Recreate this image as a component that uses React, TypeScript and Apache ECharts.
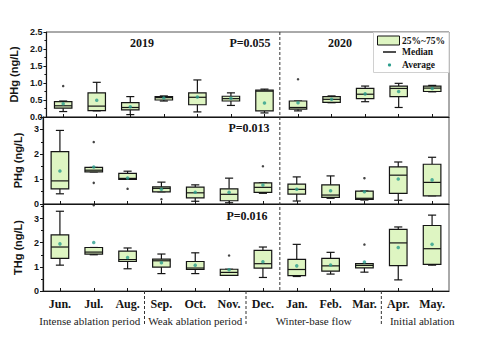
import React, { useEffect, useRef } from "react";
import * as echarts from "echarts";

const months = ["Jun.", "Jul.", "Aug.", "Sep.", "Oct.", "Nov.", "Dec.", "Jan.", "Feb.", "Mar.", "Apr.", "May."];
const periods = ["Intense ablation period", "Weak ablation period", "Winter-base flow", "Initial ablation"];
const yearLabels = ["2019", "2020"];
const pLabels = ["P=0.055", "P=0.013", "P=0.016"];
const legendLabels = ["25%~75%", "Median", "Average"];

// [lower whisker, Q1, median, Q3, upper whisker]
const dhgBoxes = [
  [0.16, 0.26, 0.33, 0.45, 0.47],
  [0.18, 0.19, 0.32, 0.71, 1.02],
  [0.07, 0.21, 0.28, 0.42, 0.6],
  [0.47, 0.5, 0.57, 0.6, 0.62],
  [0.15, 0.36, 0.58, 0.71, 1.09],
  [0.34, 0.47, 0.54, 0.61, 0.71],
  [0.12, 0.18, 0.76, 0.79, 0.82],
  [0.18, 0.23, 0.28, 0.47, 0.47],
  [0.42, 0.43, 0.52, 0.6, 0.62],
  [0.45, 0.54, 0.67, 0.84, 0.91],
  [0.28, 0.6, 0.84, 0.91, 0.99],
  [0.74, 0.75, 0.85, 0.91, 0.93],
];
const dhgMeans = [0.39, 0.49, 0.3, 0.56, 0.59, 0.55, 0.41, 0.42, 0.52, 0.68, 0.75, 0.84];
const dhgOutliers = [[0, 0.91], [7, 1.11]];

const phgBoxes = [
  [0.41, 0.61, 0.93, 2.11, 2.96],
  [1.29, 1.29, 1.36, 1.47, 1.47],
  [0.99, 0.99, 1.03, 1.23, 1.32],
  [0.49, 0.49, 0.63, 0.69, 0.88],
  [0.11, 0.25, 0.45, 0.68, 0.77],
  [0.05, 0.13, 0.39, 0.61, 1.04],
  [0.43, 0.47, 0.67, 0.85, 0.85],
  [0.12, 0.4, 0.59, 0.8, 1.09],
  [0.23, 0.27, 0.36, 0.77, 1.13],
  [0.16, 0.19, 0.23, 0.52, 0.52],
  [0.15, 0.43, 1.16, 1.49, 1.69],
  [0.33, 0.33, 0.87, 1.6, 1.88],
];
const phgMeans = [1.33, 1.49, 1.05, 0.59, 0.47, 0.47, 0.76, 0.59, 0.53, 0.49, 1.01, 0.97];
const phgOutliers = [[1, 2.49], [1, 0.85], [1, -0.05], [2, 0.61], [3, 0.19], [6, 1.52], [9, 1.04]];

const thgBoxes = [
  [1.07, 1.35, 1.82, 2.32, 3.3],
  [1.5, 1.53, 1.61, 1.8, 1.8],
  [0.92, 1.22, 1.3, 1.65, 1.78],
  [0.72, 0.99, 1.25, 1.32, 1.53],
  [0.72, 0.89, 0.95, 1.22, 1.58],
  [0.65, 0.65, 0.77, 0.9, 0.9],
  [0.56, 0.95, 1.13, 1.68, 1.82],
  [0.6, 0.64, 0.89, 1.31, 1.93],
  [0.7, 0.82, 1.04, 1.35, 1.6],
  [0.78, 0.96, 1.06, 1.13, 1.13],
  [0.46, 1.05, 1.99, 2.55, 2.65],
  [1.07, 1.1, 1.75, 2.71, 3.14],
];
const thgMeans = [1.95, 2.01, 1.39, 1.17, 1.07, 0.88, 1.21, 1.04, 1.08, 1.2, 1.8, 1.93];
const thgOutliers = [[5, 1.47], [9, 1.92]];

const W = 488;
const H = 339;
const PL = 43;
const PR = 449;
const BOX_FILL = "#def5c2";
const MEAN_COLOR = "#2a9d8c";
const INK = "#151515";
const SERIF = "'Liberation Serif', 'Times New Roman', serif";
const SANS = "'Liberation Sans', Arial, sans-serif";

const panels = [
  { name: "DHg (ng/L)", boxes: dhgBoxes, means: dhgMeans, outliers: dhgOutliers, max: 2.5, interval: 0.5, dec: 1, top: 32, height: 85 },
  { name: "PHg (ng/L)", boxes: phgBoxes, means: phgMeans, outliers: phgOutliers, max: 3.5, interval: 1, dec: 0, top: 117, height: 87 },
  { name: "THg (ng/L)", boxes: thgBoxes, means: thgMeans, outliers: thgOutliers, max: 3.6, interval: 1, dec: 0, top: 204, height: 87 },
];

const renderBox = (params: any, api: any) => {
  const i = api.value(0);
  const lo = api.value(1), q1 = api.value(2), md = api.value(3), q3 = api.value(4), hi = api.value(5);
  const cx = api.coord([i, md])[0];
  const y = (v: number) => api.coord([i, v])[1];
  const cat = api.size([1, 0])[0];
  const bw = cat * 0.52;
  const cw = cat * 0.24;
  const st = { stroke: INK, lineWidth: 1.2, fill: null };
  return {
    type: "group",
    children: [
      { type: "line", shape: { x1: cx, y1: y(hi), x2: cx, y2: y(q3) }, style: st },
      { type: "line", shape: { x1: cx, y1: y(q1), x2: cx, y2: y(lo) }, style: st },
      { type: "line", shape: { x1: cx - cw / 2, y1: y(hi), x2: cx + cw / 2, y2: y(hi) }, style: st },
      { type: "line", shape: { x1: cx - cw / 2, y1: y(lo), x2: cx + cw / 2, y2: y(lo) }, style: st },
      { type: "rect", shape: { x: cx - bw / 2, y: y(q3), width: bw, height: y(q1) - y(q3) }, style: { fill: BOX_FILL, stroke: INK, lineWidth: 1.2 } },
      { type: "line", shape: { x1: cx - bw / 2, y1: y(md), x2: cx + bw / 2, y2: y(md) }, style: st },
    ],
  };
};

export default function App() {
  const ref = useRef<HTMLDivElement>(null);
  useEffect(() => {
    if (!ref.current) return;
    const chart = echarts.init(ref.current, undefined, { renderer: "svg" });
    const catW = (PR - PL) / months.length;
    const bottomY = panels[2].top + panels[2].height;

    const grid = panels.map((p) => ({
      left: PL, right: W - PR, top: p.top, height: p.height,
      show: true, borderColor: "#555", borderWidth: 1, backgroundColor: "transparent",
    }));
    const xAxis = panels.map((p, k) => ({
      type: "category", gridIndex: k, data: months, boundaryGap: true,
      axisLine: { show: true, lineStyle: { color: INK, width: 1.2 } },
      axisTick: { show: true, inside: true, alignWithLabel: true, length: 3, lineStyle: { color: INK } },
      axisLabel: k === 2
        ? { show: true, margin: 7, color: INK, fontFamily: SERIF, fontWeight: "bold", fontSize: 12 }
        : { show: false },
      splitLine: { show: false },
    }));
    const yAxis = panels.map((p, k) => ({
      type: "value", gridIndex: k, min: 0, max: p.max, interval: p.interval,
      name: p.name, nameLocation: "middle", nameGap: 20,
      nameTextStyle: { fontFamily: SANS, fontWeight: "bold", fontSize: 11, color: INK },
      axisLine: { show: true, lineStyle: { color: INK, width: 1.2 } },
      axisTick: { show: true, inside: false, length: 3, lineStyle: { color: INK } },
      minorTick: { show: true, splitNumber: 2, length: 2, lineStyle: { color: INK } },
      axisLabel: {
        show: true, margin: 4, color: INK, fontFamily: SANS, fontWeight: "bold", fontSize: 9,
        showMaxLabel: k === 0,
        formatter: (v: number) => v.toFixed(p.dec),
      },
      splitLine: { show: false },
    }));

    const series: any[] = [];
    panels.forEach((p, k) => {
      series.push({
        type: "custom", xAxisIndex: k, yAxisIndex: k, z: 2,
        renderItem: renderBox,
        encode: { x: 0, y: [1, 2, 3, 4, 5] },
        data: p.boxes.map((b, i) => [i, ...b]),
      });
      series.push({
        type: "scatter", xAxisIndex: k, yAxisIndex: k, z: 4, symbolSize: 3.5,
        itemStyle: { color: MEAN_COLOR },
        data: p.means.map((m, i) => [i, m]),
      });
      series.push({
        type: "scatter", xAxisIndex: k, yAxisIndex: k, z: 4, symbolSize: 2.5, clip: false,
        itemStyle: { color: INK },
        data: p.outliers,
      });
    });

    const dash = { stroke: "#333", lineWidth: 1, lineDash: [3, 2] };
    const graphic: any[] = [
      { type: "line", z: 10, shape: { x1: PL + 7 * catW, y1: panels[0].top, x2: PL + 7 * catW, y2: bottomY }, style: dash },
      ...[3, 6, 10].map((b) => ({ type: "line", z: 10, shape: { x1: PL + b * catW, y1: bottomY, x2: PL + b * catW, y2: bottomY + 35 }, style: dash })),
      ...[[0, 3], [3, 6], [6, 10], [10, 12]].map(([a, b], j) => ({
        type: "text", z: 10, x: PL + ((a + b) / 2) * catW + (j === 0 ? -4 : j === 3 ? 7 : 0), y: 321,
        style: { text: periods[j], fill: "#222", font: `11px ${SERIF}`, align: "center", verticalAlign: "middle" },
      })),
      { type: "text", z: 10, x: 142, y: 43, style: { text: yearLabels[0], fill: INK, font: `bold 12px ${SERIF}`, align: "center", verticalAlign: "middle" } },
      { type: "text", z: 10, x: 340, y: 43, style: { text: yearLabels[1], fill: INK, font: `bold 12px ${SERIF}`, align: "center", verticalAlign: "middle" } },
      { type: "text", z: 10, x: 250, y: 43, style: { text: pLabels[0], fill: INK, font: `bold 12px ${SERIF}`, align: "center", verticalAlign: "middle" } },
      { type: "text", z: 10, x: 249, y: 128, style: { text: pLabels[1], fill: INK, font: `bold 12px ${SERIF}`, align: "center", verticalAlign: "middle" } },
      { type: "text", z: 10, x: 247, y: 216, style: { text: pLabels[2], fill: INK, font: `bold 12px ${SERIF}`, align: "center", verticalAlign: "middle" } },
      // legend
      { type: "rect", z: 9, shape: { x: 373.5, y: 32.5, width: PR - 373.5, height: 40 }, style: { fill: "#fff", stroke: "#d0d0d0", lineWidth: 1 } },
      { type: "rect", z: 10, shape: { x: 377.5, y: 36, width: 22, height: 9 }, style: { fill: BOX_FILL, stroke: INK, lineWidth: 1 } },
      { type: "line", z: 10, shape: { x1: 383, y1: 52, x2: 396, y2: 52 }, style: { stroke: INK, lineWidth: 1.5 } },
      { type: "circle", z: 10, shape: { cx: 389.5, cy: 65, r: 1.6 }, style: { fill: MEAN_COLOR } },
      ...legendLabels.map((t, j) => ({
        type: "text", z: 10, x: 402, y: [40.5, 52, 65][j],
        style: { text: t, fill: INK, font: `bold 9.5px ${SERIF}`, align: "left", verticalAlign: "middle" },
      })),
    ];

    chart.setOption({
      animation: false,
      backgroundColor: "#fff",
      grid, xAxis, yAxis, series, graphic,
    });
    return () => chart.dispose();
  }, []);
  return <div ref={ref} style={{ position: "fixed", left: 0, top: 0, width: W, height: H }} />;
}
